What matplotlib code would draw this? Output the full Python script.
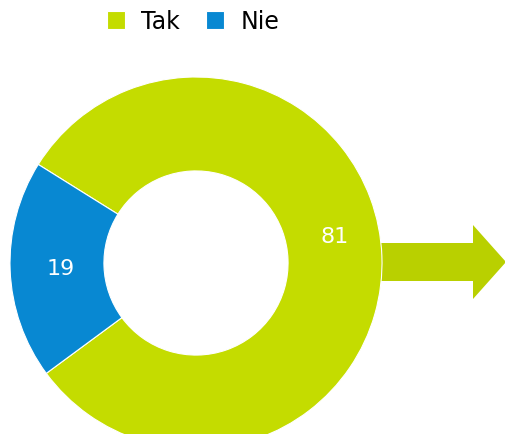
import numpy as np
import matplotlib
matplotlib.use("Agg")
import matplotlib.pyplot as plt
from matplotlib.patches import FancyArrow

labels = ["Tak", "Nie"]
values = [81, 19]
colors = ["#c4dc00", "#0888d2"]

fig = plt.figure(figsize=(5.06, 4.35), dpi=100)
ax = fig.add_axes([0, 0, 1, 1])

cx, cy, R = 196, 171, 186

# arrow behind the donut, starting at the outer edge
arrow = FancyArrow(cx + R - 6, cy + 1, 506 - (cx + R - 6), 0, width=38, head_width=74,
                   head_length=33, length_includes_head=True, color="#b9d000", lw=0,
                   zorder=1)
ax.add_patch(arrow)

start = 216.4
wedges, _ = ax.pie(values, colors=colors, startangle=start, center=(cx, cy), radius=R,
                   wedgeprops=dict(width=R * 0.505, edgecolor="white", linewidth=0.8),
                   frame=True)
for w in wedges:
    w.set_zorder(2)
ax.set_xlim(0, 506)
ax.set_ylim(0, 435)
ax.set_aspect("equal")
ax.axis("off")

# value labels
label_pos = [(11, 0.76), (182, 0.73)]
for v, (ang, r) in zip(values, label_pos):
    a = np.deg2rad(ang)
    ax.text(cx + r * R * np.cos(a), cy + r * R * np.sin(a), str(v), color="white",
            fontsize=16, ha="center", va="center", zorder=3)

fig.legend(wedges, labels, loc="upper center", bbox_to_anchor=(0.382, 1.025), ncol=2,
           frameon=False, fontsize=17, handlelength=0.75, handleheight=0.75,
           handletextpad=0.7, columnspacing=1.1)

fig.savefig("out.png", dpi=100)
